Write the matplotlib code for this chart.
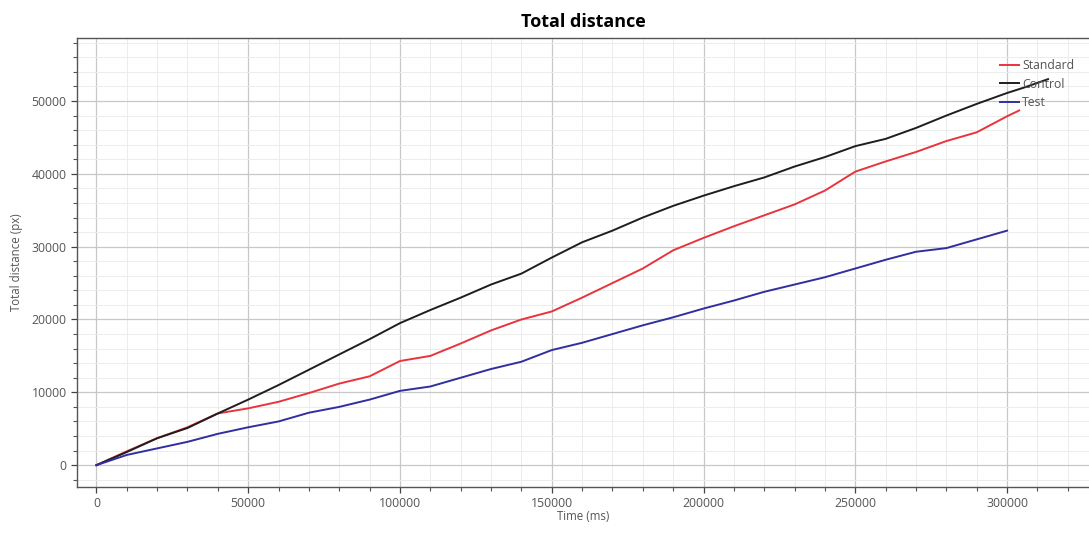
import matplotlib
matplotlib.use("Agg")
import matplotlib.pyplot as plt
from matplotlib.ticker import MultipleLocator

# --- data (time in ms, distance in px) ---
time_ms = [0, 10000, 20000, 30000, 40000, 50000, 60000, 70000, 80000, 90000,
           100000, 110000, 120000, 130000, 140000, 150000, 160000, 170000,
           180000, 190000, 200000, 210000, 220000, 230000, 240000, 250000,
           260000, 270000, 280000, 290000, 300000]

control = [0, 1800, 3700, 5100, 7100, 9000, 11000, 13100, 15200, 17300,
           19500, 21300, 23000, 24800, 26300, 28500, 30600, 32200, 34000,
           35600, 37000, 38300, 39500, 41000, 42300, 43800, 44800, 46300,
           48000, 49600, 51100]
control_tail_t = [306000, 313500]
control_tail = [51900, 53000]

standard = [0, 1900, 3700, 5200, 7100, 7800, 8700, 9900, 11200, 12200,
            14300, 15000, 16700, 18500, 20000, 21100, 23000, 25000, 27000,
            29500, 31200, 32800, 34300, 35800, 37700, 40300, 41700, 43000,
            44500, 45700, 47900]
standard_tail_t = [304000]
standard_tail = [48700]

test = [0, 1400, 2300, 3200, 4300, 5200, 6000, 7200, 8000, 9000,
        10200, 10800, 12000, 13200, 14200, 15800, 16800, 18000, 19200,
        20300, 21500, 22600, 23800, 24800, 25800, 27000, 28200, 29300,
        29800, 31000, 32200]

series_names = ["Standard", "Control", "Test"]
series_colors = ["#e8343c", "#1e1e1e", "#2f2fa0"]

plt.rcParams['font.family'] = ['Open Sans', 'DejaVu Sans']

fig = plt.figure(figsize=(10.89, 5.33), dpi=100)
ax = fig.add_axes([0.0707, 0.0863, 0.9293, 0.8424])

ax.plot(time_ms + standard_tail_t, standard + standard_tail,
        color=series_colors[0], lw=1.4, label=series_names[0])
ax.plot(time_ms + control_tail_t, control + control_tail,
        color=series_colors[1], lw=1.4, label=series_names[1])
ax.plot(time_ms, test, color=series_colors[2], lw=1.4, label=series_names[2])

ax.set_xlim(-6400, 327000)
ax.set_ylim(-3000, 58650)

ax.xaxis.set_major_locator(MultipleLocator(50000))
ax.xaxis.set_minor_locator(MultipleLocator(10000))
ax.yaxis.set_major_locator(MultipleLocator(10000))
ax.yaxis.set_minor_locator(MultipleLocator(2000))

ax.grid(which='major', color='#c8c8c8', lw=0.9)
ax.grid(which='minor', color='#ececec', lw=0.7)
ax.set_axisbelow(True)

ax.tick_params(which='major', length=4, width=0.9, color='#444444',
               labelsize=8.8, labelcolor='#555555')
ax.tick_params(which='minor', length=3, width=0.8, color='#555555')

for side in ['left', 'bottom', 'top']:
    ax.spines[side].set_color('#555555')
    ax.spines[side].set_linewidth(1.0)
ax.spines['right'].set_visible(False)

ax.set_title("Total distance", fontsize=13, fontweight='bold', pad=8)
ax.set_xlabel("Time (ms)", fontsize=8.3, color='#555555', labelpad=0)
ax.set_ylabel("Total distance (px)", fontsize=8.3, color='#555555', labelpad=6)

# legend sits inside the top right corner, no frame
ax.legend(loc='upper left', frameon=False, fontsize=8.8, handlelength=1.6,
          handletextpad=0.2, labelspacing=0.45, borderaxespad=0, borderpad=0,
          bbox_to_anchor=(0.912, 0.953), labelcolor='#555555')

fig.savefig("out.png", dpi=100)
